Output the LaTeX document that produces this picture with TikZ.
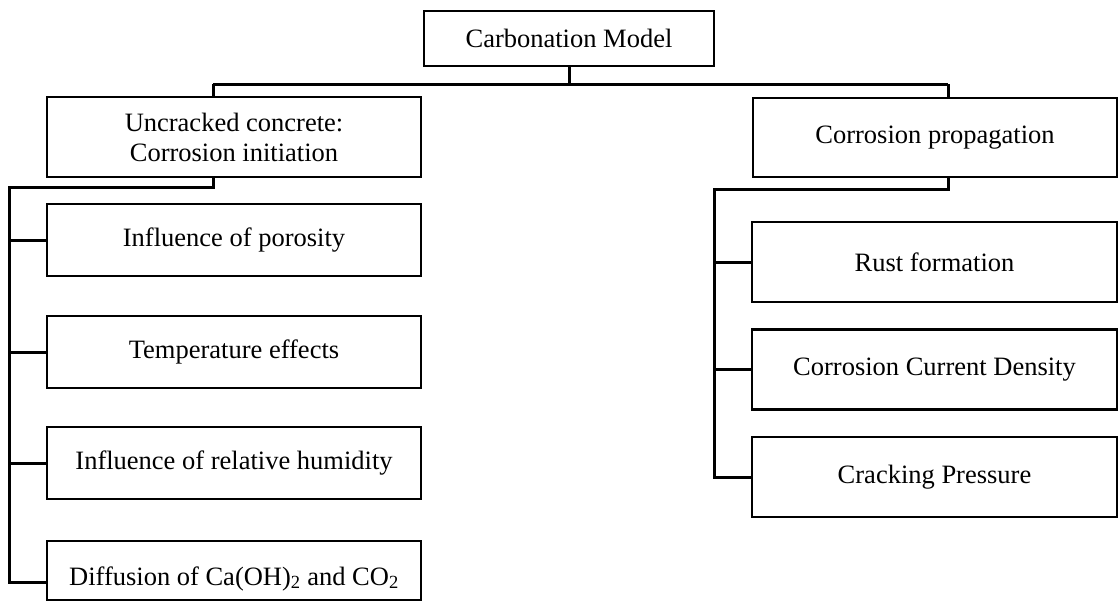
\documentclass[tikz,border=0pt]{standalone}
\usepackage{fontspec}
\setmainfont{Liberation Serif}
\begin{document}
\begin{tikzpicture}[x=1pt,y=-1pt,
  box/.style={draw, line width=2.3pt, inner sep=0pt, font=\fontsize{26.5}{30}\selectfont},
  conn/.style={line width=3pt, line join=miter}]
\useasboundingbox (0,0) rectangle (1119,600);
% top
\node[box, minimum width=290pt, minimum height=55pt] (top) at (569,38.5) {Carbonation Model};
% second level
\node[box, align=center, minimum width=374pt, minimum height=80pt] (unc) at (234,137) {Uncracked concrete:\\Corrosion initiation};
\node[box, minimum width=364pt, minimum height=79pt] (prop) at (935,137.5) {Corrosion propagation};
% left column
\node[box, minimum width=374pt, minimum height=72pt] (por) at (234,240) {Influence of porosity};
\node[box, minimum width=374pt, minimum height=72pt] (tem) at (234,352) {Temperature effects};
\node[box, minimum width=374pt, minimum height=72pt] (hum) at (234,463) {Influence of relative humidity};
\node[box, minimum width=374pt, text height=44pt, text depth=14.5pt, anchor=north] (dif) at (234,540) {Diffusion of Ca(OH)\textsubscript{2} and CO\textsubscript{2}};
% right column
\node[box, minimum width=365pt, minimum height=80pt] (rus) at (934.5,262) {Rust formation};
\node[box, minimum width=365pt, minimum height=80pt] (cur) at (934.5,369.5) {Corrosion Current Density};
\node[box, minimum width=365pt, minimum height=80pt] (crk) at (934.5,477) {Cracking Pressure};
% junctions
\coordinate (jl) at (213,84);
\coordinate (jr) at (948,84);
\coordinate (lb) at (9,187);
\coordinate (rb) at (714,189);
% top-level connectors
\draw[conn] (jl) -- (jr);
\draw[conn] (top.south) -- (top.south |- jl);
\draw[conn] (jl) -- (jl |- unc.north);
\draw[conn] (jr) -- (jr |- prop.north);
% left tree
\draw[conn] (jl |- unc.south) |- (lb) -- (lb |- dif.mid west) -- (dif.mid west);
\draw[conn] (lb |- por.west) -- (por.west);
\draw[conn] (lb |- tem.west) -- (tem.west);
\draw[conn] (lb |- hum.west) -- (hum.west);
% right tree
\draw[conn] (jr |- prop.south) |- (rb) -- (rb |- crk.west) -- (crk.west);
\draw[conn] (rb |- rus.west) -- (rus.west);
\draw[conn] (rb |- cur.west) -- (cur.west);
\end{tikzpicture}
\end{document}
